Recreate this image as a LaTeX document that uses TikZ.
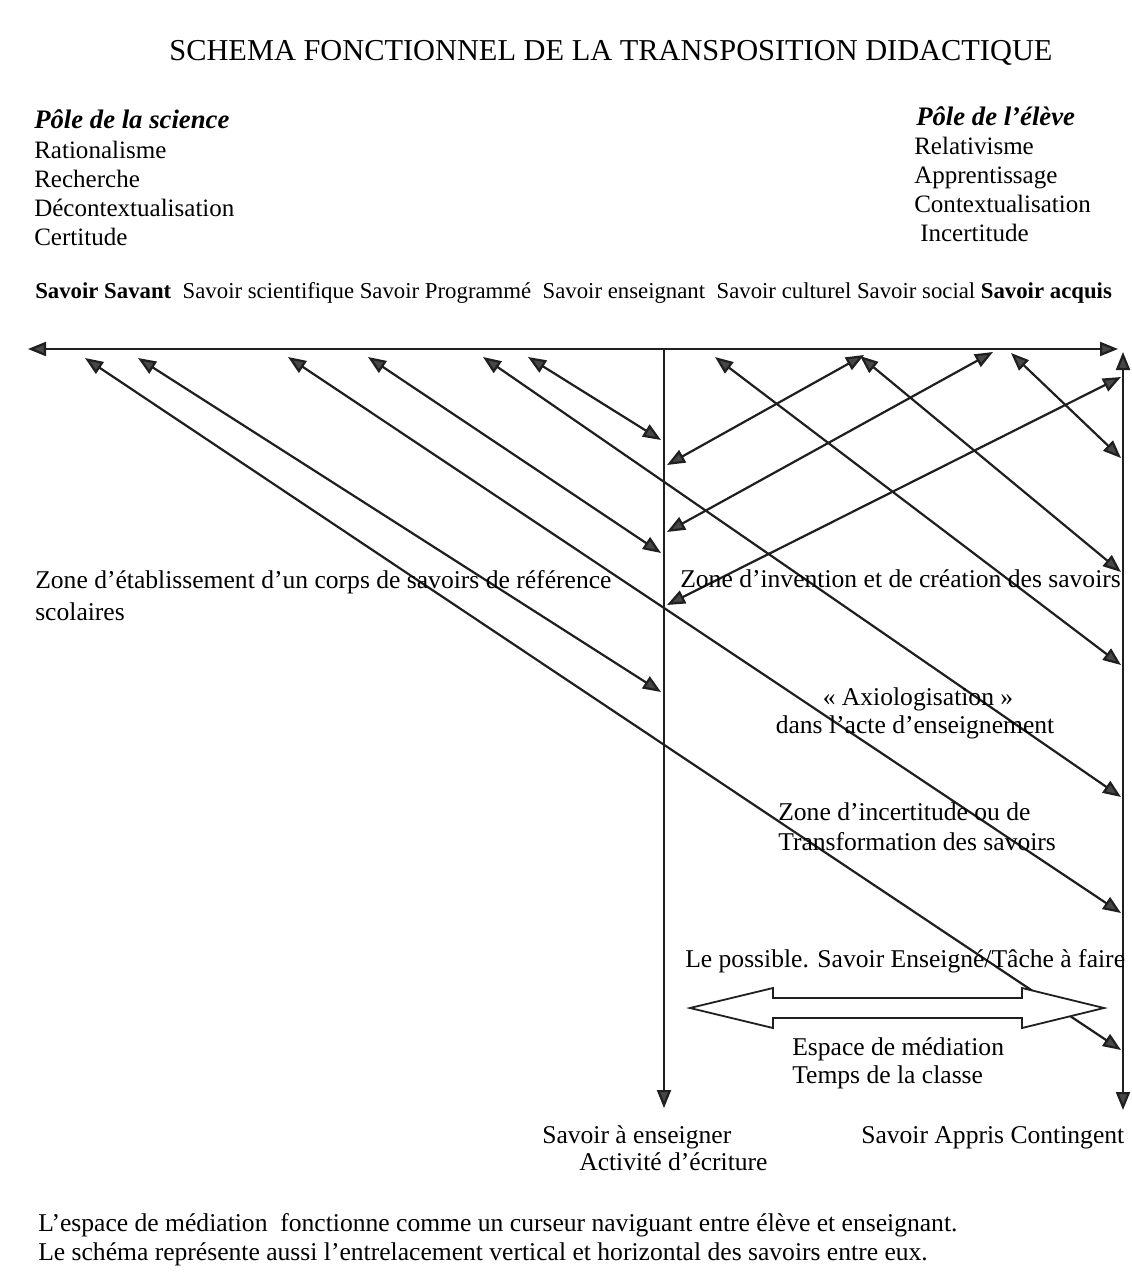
\documentclass[tikz,border=0pt]{standalone}
\usepackage{fontspec}
\setmainfont{Liberation Serif}
\usetikzlibrary{arrows.meta}

\def\LineCol{black!88}
\def\TipCol{black!72}
\def\Taille{\fontsize{18.2}{20}\selectfont}

\tikzset{
  fleche/.style={draw=\LineCol, line width=0.55mm,
    {Triangle[length=4.5mm,width=3.5mm,fill=\TipCol]}-{Triangle[length=4.5mm,width=3.5mm,fill=\TipCol]}},
  axe/.style={draw=\LineCol, line width=0.55mm},
  txt/.style={anchor=base west, inner sep=0pt, font=\Taille},
  txtc/.style={anchor=base, inner sep=0pt, font=\Taille},
  pole/.style={anchor=base west, inner sep=0pt, font=\fontsize{19}{22}\selectfont\bfseries\itshape},
}

\begin{document}
\begin{tikzpicture}[x=0.25mm,y=-0.25mm]
  \useasboundingbox[fill=white] (0,0) rectangle (1132,1273);

  % --- Titre et poles ---
  \node[anchor=base, inner sep=0pt, font=\fontsize{21.6}{24}\selectfont] (titre) at (611,60)
    {SCHEMA FONCTIONNEL DE LA TRANSPOSITION DIDACTIQUE};
  \node[pole] (psci) at (34,128) {Pôle de la science};
  \foreach \t [count=\i] in {Rationalisme, Recherche, Décontextualisation, Certitude}
  {
    \node[txt, font=\fontsize{17.8}{20}\selectfont] (sci\i) at (34,129+29*\i) {\t};
  }
  \node[pole] (pelv) at (916,125) {Pôle de l’élève};
  \foreach \t/\x [count=\i] in {Relativisme/914, Apprentissage/914, Contextualisation/914, Incertitude/920}
  {
    \node[txt, font=\fontsize{17.8}{20}\selectfont] (elv\i) at (\x,125+29*\i) {\t};
  }
  \node[txt, font=\fontsize{16.2}{19}\selectfont] (savoirs) at (35,298)
    {\textbf{Savoir Savant}\ \ Savoir scientifique Savoir Programmé\ \ Savoir enseignant\ \ Savoir culturel Savoir social \textbf{Savoir acquis}};

  % --- Points ---
  \coordinate (hg) at (28,349);
  \coordinate (hd) at (1118,349);
  \coordinate (vgh) at (664,350);
  \coordinate (vgb) at (664,1108);
  \coordinate (vdh) at (1123,352);
  \coordinate (vdb) at (1123,1110);
  \foreach \n/\x/\y in {%
    s1/85/358, s2/138/358, s3/288/357, s4/368/357, s5/483/357, s6/528/357,
    s7/715/357, s8/860/356, s9/864/355, s10/993/352, s11/1011/353,
    g1/661/440, g2/661/553, g3/661/692,
    m1/667/465, m2/667/532, m3/667/605,
    d1/1121/1050, d2/1121/913, d3/1121/797, d4/1121/665,
    d5/1121/572, d6/1121/458, d7/1121/377%
  }{
    \coordinate (\n) at (\x,\y);
  }

  % --- Axes ---
  \draw[fleche] (hg) -- (hd);
  \draw[fleche] (vdh) -- (vdb);
  \draw[axe, -{Triangle[length=4.5mm,width=3.5mm,fill=\TipCol]}] (vgh) -- (vgb);

  % --- Fleches ---
  \foreach \a/\b in {s1/d1, s2/g3, s3/d2, s4/g2, s5/d3, s6/g1,
                     s7/d4, s8/d5, s11/d6, m1/s9, m2/s10, m3/d7}
  {
    \draw[fleche] (\a) -- (\b);
  }

  % --- Espace de mediation ---
  \draw[draw=\LineCol, line width=0.45mm, fill=white]
    (690,1008) -- (773,988) -- (773,998) -- (1022,998) -- (1022,988) -- (1104,1008)
    -- (1022,1028) -- (1022,1018) -- (773,1018) -- (773,1028) -- cycle;

  % --- Zones ---
  \node[txt] (zref1) at (35,588) {Zone d’établissement d’un corps de savoirs de référence};
  \node[txt] (zref2) at (35,620) {scolaires};
  \node[txt] (zinv) at (680,587) {Zone d’invention et de création des savoirs};
  \node[txtc] (axio1) at (918,705) {« Axiologisation »};
  \node[txtc] (axio2) at (915,733) {dans l’acte d’enseignement};
  \node[txt] (zinc1) at (778,820) {Zone d’incertitude ou de};
  \node[txt] (zinc2) at (778,850) {Transformation des savoirs};
  \node[txt] (possible) at (685,967) {Le possible. Savoir Enseigné/Tâche à faire};
  \node[txt] (esp1) at (792,1055) {Espace de médiation};
  \node[txt] (esp2) at (792,1083) {Temps de la classe};
  \node[txt] (aens1) at (542,1143) {Savoir à enseigner};
  \node[txt] (aens2) at (579,1170) {Activité d’écriture};
  \node[txt] (appris) at (861,1143) {Savoir Appris Contingent};

  % --- Notes ---
  \node[txt] (note1) at (38,1231) {L’espace de médiation\ \ fonctionne comme un curseur naviguant entre élève et enseignant.};
  \node[txt] (note2) at (38,1260) {Le schéma représente aussi l’entrelacement vertical et horizontal des savoirs entre eux.};
\end{tikzpicture}
\end{document}
